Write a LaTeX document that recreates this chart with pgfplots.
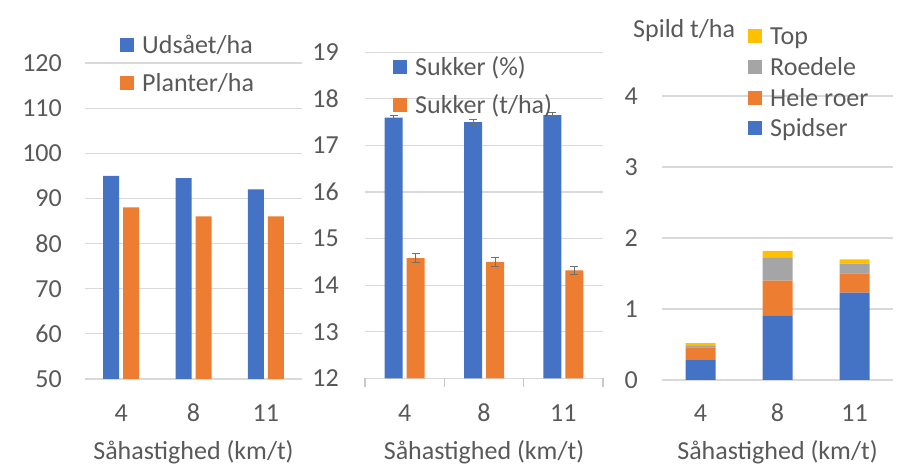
\documentclass[border=0pt]{standalone}
\usepackage{fontspec}
\setmainfont{Carlito}
\usepackage{pgfplots}
\pgfplotsset{compat=1.18}
\definecolor{cblue}{HTML}{4472C4}
\definecolor{corange}{HTML}{ED7D31}
\definecolor{cgray}{HTML}{A5A5A5}
\definecolor{cyellow}{HTML}{FFC000}
\definecolor{gridc}{HTML}{D9D9D9}
\definecolor{axc}{HTML}{C8C8C8}
\definecolor{txt}{HTML}{595959}
\definecolor{errc}{HTML}{707070}
\newcommand\cf{\fontsize{26bp}{31bp}\selectfont}
\pgfplotsset{
  sq/.style={legend image code/.code={\fill[##1, draw=none] (0bp,-4.5bp) rectangle (14bp,9.5bp);}},
  base/.style={
    scale only axis,
    anchor=south west,
    axis line style={draw=none},
    ymajorgrids,
    grid style={gridc, line width=1.2bp},
    major tick length=0pt,
    xmin=-0.5, xmax=2.5,
    xtick={0,1,2},
    xticklabels={4,8,11},
    tick label style={font=\cf, text=txt},
    /pgf/number format/assume math mode=true,
    yticklabel style={anchor=east, inner sep=0pt},
    xticklabel style={anchor=base, inner sep=0pt},
    xlabel={Såhastighed (km/t)},
    xlabel style={font=\cf, text=txt, at={(axis description cs:0.5,0)}, anchor=base, inner sep=0pt},
    legend cell align=left,
    legend style={draw=none, fill=none, inner sep=0pt, font=\cf, text=txt, anchor=north west,
      column sep=8bp, nodes={inner sep=0pt, text height=18bp, text depth=6bp}},
  }
}
\begin{document}
\begin{tikzpicture}
\useasboundingbox (0,0) rectangle (911bp,466bp);
% Panel 1
\begin{axis}[base, at={(85bp,87bp)}, width=217bp, height=316bp,
  ymin=50, ymax=120, ytick={50,60,...,120},
  ybar=4bp, bar width=16bp,
  yticklabel style={xshift=-23bp},
  xticklabel style={yshift=-42bp},
  xlabel style={yshift=-80bp},
  legend style={at={(axis description cs:0.1613,1.087)}, row sep=14bp}]
\addplot[fill=cblue, draw=none, sq] coordinates {(0,95) (1,94.5) (2,92)};
\addplot[fill=corange, draw=none, sq] coordinates {(0,88) (1,86) (2,86)};
\legend{Udsået/ha, Planter/ha}
\end{axis}
% Panel 2
\begin{axis}[base, at={(365bp,87.7bp)}, width=238bp, height=326bp,
  ymin=12, ymax=19, ytick={12,13,...,19},
  ybar=4bp, bar width=18bp,
  tick align=outside, xtick pos=bottom,
  extra x ticks={-0.5,0.5,1.5,2.5},
  extra x tick labels={},
  extra x tick style={major tick length=9bp, grid=none,
     tick style={draw=axc, line width=1.2bp}},
  yticklabel style={xshift=-26bp},
  xticklabel style={yshift=-42.7bp},
  xlabel style={yshift=-80.7bp},
  legend style={at={(axis description cs:0.1176,0.984)}, row sep=14bp}]
\addplot[fill=cblue, draw=none, sq,
  error bars/.cd, y dir=both, y explicit,
  error bar style={errc, line width=1bp},
  error mark options={rotate=90, mark size=4bp, errc, line width=1bp}]
  coordinates {(0,17.6) +- (0,0.05) (1,17.5) +- (0,0.05) (2,17.65) +- (0,0.05)};
\addplot[fill=corange, draw=none, sq,
  error bars/.cd, y dir=both, y explicit,
  error bar style={errc, line width=1bp},
  error mark options={rotate=90, mark size=4bp, errc, line width=1bp}]
  coordinates {(0,14.58) +- (0,0.09) (1,14.5) +- (0,0.09) (2,14.32) +- (0,0.09)};
\legend{Sukker (\%), Sukker (t/ha)}
\end{axis}
% Panel 3
\begin{axis}[base, at={(662bp,86bp)}, width=231bp, height=284bp,
  ymin=0, ymax=4, ytick={0,1,...,4},
  ybar stacked, bar width=30bp,
  yticklabel style={xshift=-24bp},
  xticklabel style={yshift=-41bp},
  xlabel style={yshift=-79bp},
  title={Spild t/ha},
  title style={at={(axis description cs:-0.1255,1.1866)}, anchor=base west, font=\cf, text=txt, inner sep=0pt},
  reverse legend,
  legend style={at={(axis description cs:0.3723,1.2447)}, row sep=6.7bp}]
\addplot[fill=cblue, draw=none, sq] coordinates {(0,0.28) (1,0.91) (2,1.23)};
\addplot[fill=corange, draw=none, sq] coordinates {(0,0.18) (1,0.49) (2,0.27)};
\addplot[fill=cgray, draw=none, sq] coordinates {(0,0.02) (1,0.32) (2,0.14)};
\addplot[fill=cyellow, draw=none, sq] coordinates {(0,0.04) (1,0.10) (2,0.06)};
\legend{Spidser, Hele roer, Roedele, Top}
\end{axis}
\end{tikzpicture}
\end{document}
